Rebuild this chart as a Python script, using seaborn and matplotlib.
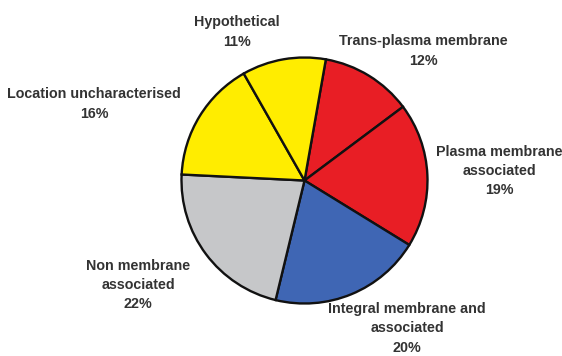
import matplotlib
matplotlib.use("Agg")
import matplotlib.pyplot as plt
import seaborn as sns

# Slice data, clockwise from the top
categories = [
    "Trans-plasma membrane",
    "Plasma membrane\nassociated",
    "Integral membrane and\nassociated",
    "Non membrane\nassociated",
    "Location uncharacterised",
    "Hypothetical",
]
shares = [12, 19, 20, 22, 16, 11]
colours = ["#E81E25", "#E81E25", "#3F66B4", "#C6C7C9", "#FFED00", "#FFED00"]

# label anchor points in pixel space (x, y from top)
label_pos = [(423, 51), (499, 171), (407, 328), (138, 285), (94, 104), (237, 32)]

sns.set_theme(style="white")
plt.rcParams["font.family"] = ["Liberation Sans", "DejaVu Sans"]

W, H = 562, 356
fig = plt.figure(figsize=(W / 100, H / 100), dpi=100)
ax = fig.add_axes([0, 0, 1, 1])

ax.pie(
    shares,
    colors=colours,
    startangle=80,
    counterclock=False,
    center=(304.5, H - 180.5),
    radius=123,
    wedgeprops=dict(edgecolor="#111111", linewidth=1.7),
    frame=True,
)
ax.set_xlim(0, W)
ax.set_ylim(0, H)
ax.set_aspect("equal")
ax.axis("off")

for name, val, (x, y) in zip(categories, shares, label_pos):
    ax.text(x, H - y, f"{name}\n{val}%", ha="center", va="center",
            fontsize=10.3, fontweight="bold", color="#333333", linespacing=1.5)

fig.savefig("out.png", dpi=100)
